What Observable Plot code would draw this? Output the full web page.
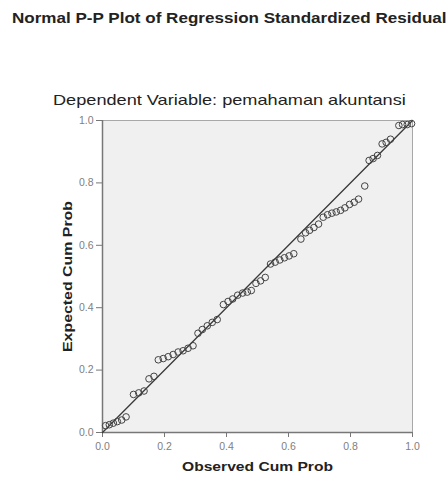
<!DOCTYPE html>
<html>
<head>
<meta charset="utf-8">
<script src="https://cdn.jsdelivr.net/npm/d3@7"></script>
<script src="https://cdn.jsdelivr.net/npm/@observablehq/plot@0.6"></script>
<style>
  html, body { margin: 0; padding: 0; background: #fff; }
  body { width: 448px; height: 481px; overflow: hidden; font-family: "Liberation Sans", Arial, sans-serif; }
  #title { position: absolute; left: 12px; top: 9px; font-size: 15.5px; font-weight: bold; color: #222; white-space: nowrap; transform: scaleX(1.1); transform-origin: left top; }
  #subtitle { position: absolute; left: 53px; top: 91px; font-size: 15px; color: #222; white-space: nowrap; transform: scaleX(1.21); transform-origin: left top; }
  #chart { position: absolute; left: 0; top: 112px; }
</style>
</head>
<body>
<div id="title"></div>
<div id="subtitle"></div>
<div id="chart"></div>
<script>
const titleText = "Normal P-P Plot of Regression Standardized Residual";
const subtitleText = "Dependent Variable: pemahaman akuntansi";
const xLabel = "Observed Cum Prob";
const yLabel = "Expected Cum Prob";
const tickValues = [0, 0.2, 0.4, 0.6, 0.8, 1.0];

const observed = [
  0.010, 0.022, 0.035, 0.048, 0.062, 0.076,
  0.100, 0.117, 0.134, 0.150, 0.166,
  0.180, 0.196, 0.212, 0.228, 0.244, 0.260, 0.276, 0.292,
  0.308, 0.322, 0.338, 0.354, 0.370,
  0.390, 0.405, 0.420, 0.436, 0.452, 0.467, 0.480,
  0.495, 0.510, 0.525,
  0.542, 0.557, 0.572, 0.587, 0.602, 0.617,
  0.640, 0.655, 0.668, 0.682, 0.697,
  0.712, 0.726, 0.740, 0.754, 0.768, 0.782, 0.797, 0.812, 0.826,
  0.846,
  0.860, 0.873, 0.887, 0.902, 0.915, 0.929,
  0.956, 0.968, 0.983, 0.997
];
const expected = [
  0.022, 0.025, 0.030, 0.035, 0.040, 0.050,
  0.122, 0.127, 0.133, 0.172, 0.180,
  0.233, 0.237, 0.243, 0.250, 0.258, 0.262, 0.270, 0.278,
  0.318, 0.330, 0.342, 0.353, 0.362,
  0.410, 0.420, 0.428, 0.440, 0.447, 0.450, 0.455,
  0.478, 0.486, 0.497,
  0.540, 0.546, 0.553, 0.560, 0.566, 0.573,
  0.620, 0.640, 0.648, 0.657, 0.668,
  0.690, 0.698, 0.703, 0.707, 0.712, 0.720, 0.731, 0.738, 0.748,
  0.790,
  0.872, 0.878, 0.888, 0.925, 0.930, 0.940,
  0.984, 0.987, 0.987, 0.990
];
const refX = [0, 1];
const refY = [0, 1];

document.getElementById("title").textContent = titleText;
document.getElementById("subtitle").textContent = subtitleText;

const points = observed.map((o, i) => ({obs: o, exp: expected[i]}));
const refLine = refX.map((x, i) => ({x, y: refY[i]}));

const chart = Plot.plot({
  width: 448,
  height: 369,
  marginTop: 8,
  marginBottom: 49,
  marginLeft: 102,
  marginRight: 36,
  style: { fontFamily: "Liberation Sans, Arial, sans-serif", fontSize: "10.5px", background: "transparent" },
  x: { domain: [0, 1] },
  y: { domain: [0, 1] },
  marks: [
    Plot.frame({ fill: "#f0f0f0", stroke: "#a8a8a8" }),
    Plot.axisX({ ticks: tickValues, tickFormat: d3.format(".1f"), tickSize: 5, tickPadding: 5, label: null, stroke: "#777", color: "#808080" }),
    Plot.axisY({ ticks: tickValues, tickFormat: d3.format(".1f"), tickSize: 6, tickPadding: 3, label: null, stroke: "#777", color: "#808080" }),
    Plot.ruleX([0], { stroke: "#777", strokeWidth: 1.5 }),
    Plot.ruleY([0], { stroke: "#777", strokeWidth: 1.5 }),
    Plot.line(refLine, { x: "x", y: "y", stroke: "#3a3a3a", strokeWidth: 1.3 }),
    Plot.dot(points, { x: "obs", y: "exp", r: 3.3, stroke: "#444", strokeWidth: 1, fill: "none" }),
    Plot.text([xLabel], { text: d => d, frameAnchor: "bottom", dy: 38.5, fontSize: 13, fontWeight: "bold", fill: "#222", className: "xlab" }),
    Plot.text([yLabel], { text: d => d, frameAnchor: "left", dx: -35, dy: 75.5, rotate: -90, textAnchor: "start", fontSize: 13, fontWeight: "bold", fill: "#222", className: "ylab" })
  ]
});
// stretch axis labels to the reference's widths
d3.select(chart).selectAll(".xlab text, .ylab text")
  .attr("textLength", 151)
  .attr("lengthAdjust", "spacingAndGlyphs");
document.getElementById("chart").appendChild(chart);
</script>
</body>
</html>
